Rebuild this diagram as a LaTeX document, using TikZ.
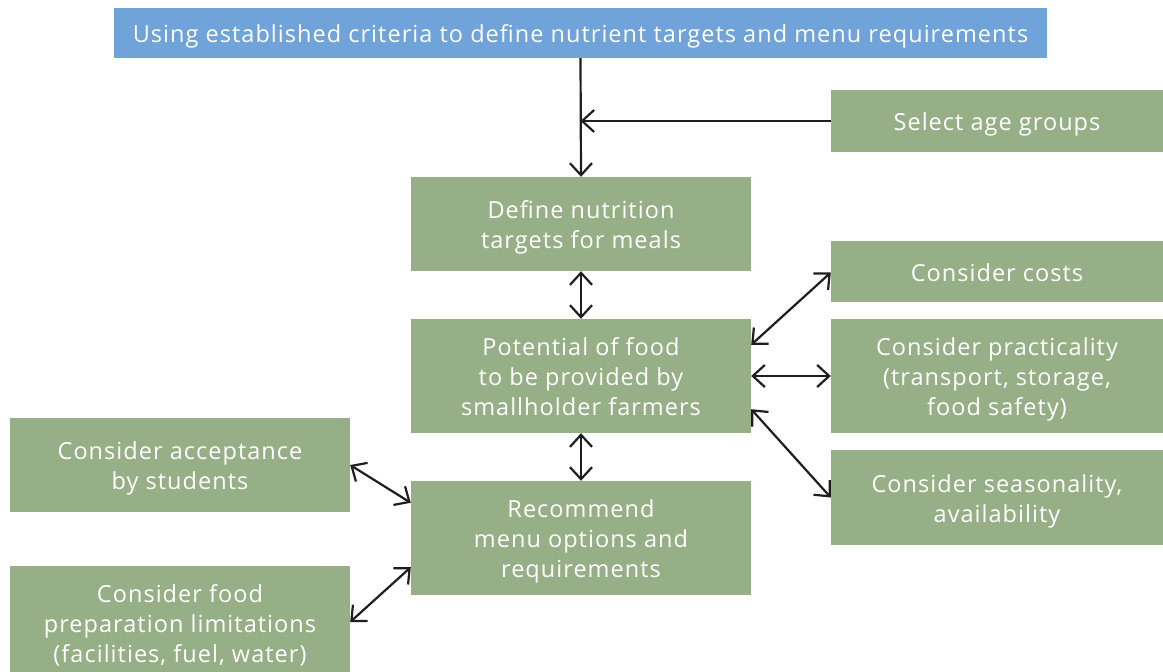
\documentclass[tikz,border=0pt]{standalone}
\usepackage{fontspec}
\setmainfont[LetterSpace=4.4]{Open Sans}
\usetikzlibrary{arrows.meta}
\definecolor{boxgreen}{HTML}{97AF87}
\definecolor{boxblue}{HTML}{6FA3DA}
\definecolor{linec}{HTML}{1E1E1E}
\newcommand\tstr{\rule{0pt}{25.4pt}}
\newcommand\bstr{\rule[-6pt]{0pt}{6pt}}
\tikzset{
  box/.style={fill=boxgreen, draw=none, text=white, align=center, inner sep=0pt,
    font=\fontsize{23.5}{30}\selectfont},
  topbox/.style={box, fill=boxblue},
  conn/.style={draw=linec, line width=2.2pt, arrows={-Straight Barb[length=12pt,width=22pt,line width=2.2pt]}},
  dconn/.style={conn, arrows={Straight Barb[length=12pt,width=22pt,line width=2.2pt]-Straight Barb[length=12pt,width=22pt,line width=2.2pt]}}
}
\begin{document}
\begin{tikzpicture}[x=1pt,y=-1pt]
\useasboundingbox (0,0) rectangle (1163,672);
\clip (0,0) rectangle (1163,672);
\node[topbox, minimum width=933pt, minimum height=50pt] (top) at (580.5,33) {\tstr Using established criteria to define nutrient targets and menu requirements\bstr};
\node[box, minimum width=332pt, minimum height=62pt] (age) at (997,121) {\tstr Select age groups\bstr};
\node[box, minimum width=340pt, minimum height=94pt] (define) at (581,224) {\tstr Define nutrition\\targets for meals\bstr};
\node[box, minimum width=332pt, minimum height=61pt] (costs) at (997,271.5) {\tstr Consider costs\bstr};
\node[box, minimum width=340pt, minimum height=114pt] (potential) at (581,376) {\tstr Potential of food\\to be provided by\\smallholder farmers\bstr};
\node[box, minimum width=332pt, minimum height=114pt] (practical) at (997,376) {\tstr Consider practicality\\(transport, storage,\\food safety)\bstr};
\node[box, minimum width=332pt, minimum height=95pt] (season) at (997,497.5) {\tstr Consider seasonality,\\availability\bstr};
\node[box, minimum width=340pt, minimum height=94pt] (accept) at (180,465) {\tstr Consider acceptance\\by students\bstr};
\node[box, minimum width=340pt, minimum height=114pt] (recommend) at (581,538) {\tstr Recommend\\menu options and\\requirements\bstr};
\node[box, minimum width=340pt, minimum height=114pt] (prep) at (180,623) {\tstr Consider food\\preparation limitations\\(facilities, fuel, water)\bstr};
\coordinate (join) at (top.south |- age.west);
\draw[conn] (top.south) -- (define.north);
\draw[conn] (age.west) -- (join);
\draw[dconn] (define.south) -- (potential.north);
\draw[dconn] (potential.south) -- (recommend.north);
\draw[dconn] ([yshift=-26pt]potential.north east) -- ([yshift=-1pt]costs.west);
\draw[dconn] (potential.east) -- (practical.west);
\draw[dconn] ([yshift=24pt]potential.south east) -- (season.west);
\draw[dconn] (accept.east) -- ([yshift=-22pt]recommend.north west);
\draw[dconn] ([yshift=1pt]prep.east) -- ([yshift=28pt]recommend.south west);
\end{tikzpicture}
\end{document}
